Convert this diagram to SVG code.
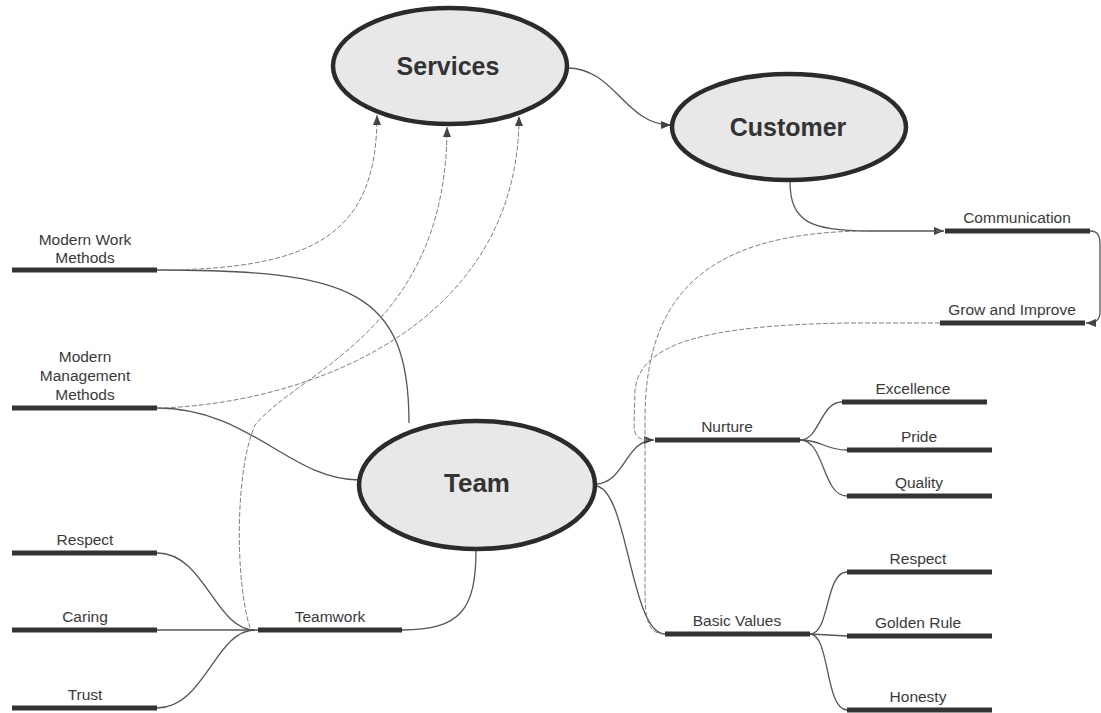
<svg xmlns="http://www.w3.org/2000/svg" width="1101" height="713" viewBox="0 0 1101 713">
<defs>
<style>
.bar{stroke:#333;stroke-width:5;fill:none}
.ln{fill:none;stroke:#555;stroke-width:1.3}
.dash{fill:none;stroke:#808080;stroke-width:1;stroke-dasharray:5 2}
.lbl{font-family:"Liberation Sans",Arial,sans-serif;font-size:15.5px;fill:#3a3a3a;text-anchor:middle}
.big{font-family:"Liberation Sans",Arial,sans-serif;font-weight:bold;font-size:25px;fill:#333;text-anchor:middle}
.oval{fill:#e8e8e8;stroke:#2b2b2b;stroke-width:4.5}
</style>
<marker id="arr" viewBox="0 0 10 8" refX="10" refY="4" markerWidth="10" markerHeight="8" markerUnits="userSpaceOnUse" orient="auto"><path d="M0,0 L10,4 L0,8 z" fill="#444"/></marker>
</defs>
<rect width="1101" height="713" fill="#fff"/>
<g id="connectors">
<path class="ln" d="M567,68 C615,68 625,125 671,125" marker-end="url(#arr)"/>
<path class="ln" d="M790,181 C790,222 810,231 870,231 L944,231" marker-end="url(#arr)"/>
<path class="ln" d="M1090,231 C1098,231 1100,236 1100,245 L1100,312 C1100,320 1096,323 1086,323" marker-end="url(#arr)"/>
<path class="ln" d="M157,270 C350,270 409,290 409,423"/>
<path class="ln" d="M157,408 C250,408 290,480 359,480"/>
<path class="ln" d="M402,630 C460,630 476,610 476,550"/>
<path class="ln" d="M157,553 C205,553 215,630 255,630"/>
<path class="ln" d="M157,630 L258,630"/>
<path class="ln" d="M157,708 C205,708 215,630 255,630"/>
<path class="ln" d="M595,484 C625,484 625,440 654,440" marker-end="url(#arr)"/>
<path class="ln" d="M595,486 C628,486 630,634 665,634"/>
<path class="ln" d="M800,440 C820,440 820,402 842,402"/>
<path class="ln" d="M800,440 C822,440 825,450 847,450"/>
<path class="ln" d="M800,440 C825,440 822,496 847,496"/>
<path class="ln" d="M810,634 C830,634 825,572 847,572"/>
<path class="ln" d="M810,634 L847,636"/>
<path class="ln" d="M810,634 C830,634 825,710 847,710"/>
<path class="dash" d="M157,270 C320,270 377,230 377,115" marker-end="url(#arr)"/>
<path class="dash" d="M250,628 C235,580 235,470 255,425 C300,370 447,330 447,127" marker-end="url(#arr)"/>
<path class="dash" d="M157,408 C300,405 519,330 519,116" marker-end="url(#arr)"/>
<path class="dash" d="M665,634 C648,634 645,620 645,590 L645,420 C645,300 700,231 870,231 L940,231"/>
<path class="dash" d="M940,323 L850,323 C700,325 640,345 635,390 L634,425 C634,435 638,440 648,440"/>
</g>
<g id="services"><ellipse class="oval" cx="450" cy="66" rx="117" ry="58"/><text class="big" x="448" y="75">Services</text></g>
<g id="customer"><ellipse class="oval" cx="789" cy="127" rx="117" ry="53"/><text class="big" x="788" y="136">Customer</text></g>
<g id="team"><ellipse class="oval" cx="477" cy="485" rx="118" ry="64"/><text class="big" x="477" y="492" style="font-size:26px">Team</text></g>
<g id="modern-work-methods"><line class="bar" x1="12" y1="270" x2="157" y2="270"/><text class="lbl" x="85" y="245">Modern Work</text><text class="lbl" x="85" y="263">Methods</text></g>
<g id="modern-management-methods"><line class="bar" x1="12" y1="408" x2="157" y2="408"/><text class="lbl" x="85" y="362">Modern</text><text class="lbl" x="85" y="381">Management</text><text class="lbl" x="85" y="400">Methods</text></g>
<g id="respect-left"><line class="bar" x1="12" y1="553" x2="157" y2="553"/><text class="lbl" x="85" y="545">Respect</text></g>
<g id="caring"><line class="bar" x1="12" y1="630" x2="157" y2="630"/><text class="lbl" x="85" y="622">Caring</text></g>
<g id="trust"><line class="bar" x1="12" y1="708" x2="157" y2="708"/><text class="lbl" x="85" y="700">Trust</text></g>
<g id="teamwork"><line class="bar" x1="258" y1="630" x2="402" y2="630"/><text class="lbl" x="330" y="622">Teamwork</text></g>
<g id="communication"><line class="bar" x1="945" y1="231" x2="1090" y2="231"/><text class="lbl" x="1017" y="223">Communication</text></g>
<g id="grow-and-improve"><line class="bar" x1="940" y1="323" x2="1085" y2="323"/><text class="lbl" x="1012" y="315">Grow and Improve</text></g>
<g id="nurture"><line class="bar" x1="655" y1="440" x2="800" y2="440"/><text class="lbl" x="727" y="432">Nurture</text></g>
<g id="excellence"><line class="bar" x1="842" y1="402" x2="987" y2="402"/><text class="lbl" x="913" y="394">Excellence</text></g>
<g id="pride"><line class="bar" x1="847" y1="450" x2="992" y2="450"/><text class="lbl" x="919" y="442">Pride</text></g>
<g id="quality"><line class="bar" x1="847" y1="496" x2="992" y2="496"/><text class="lbl" x="919" y="488">Quality</text></g>
<g id="basic-values"><line class="bar" x1="665" y1="634" x2="810" y2="634"/><text class="lbl" x="737" y="626">Basic Values</text></g>
<g id="respect-right"><line class="bar" x1="847" y1="572" x2="992" y2="572"/><text class="lbl" x="918" y="564">Respect</text></g>
<g id="golden-rule"><line class="bar" x1="847" y1="636" x2="992" y2="636"/><text class="lbl" x="918" y="628">Golden Rule</text></g>
<g id="honesty"><line class="bar" x1="847" y1="710" x2="992" y2="710"/><text class="lbl" x="918" y="702">Honesty</text></g>
</svg>
